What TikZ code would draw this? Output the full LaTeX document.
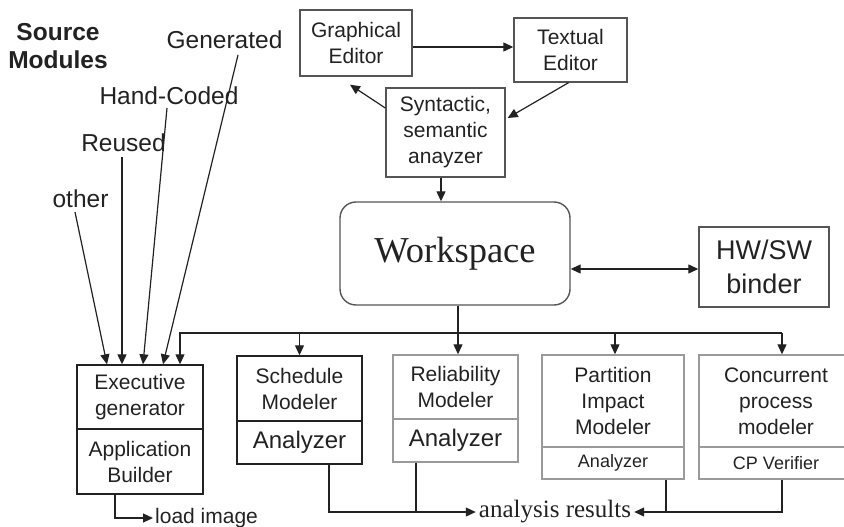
\documentclass[tikz,border=0pt]{standalone}
\usepackage{fontspec}
\setmainfont{Liberation Serif}
\setsansfont{Liberation Sans}
\usetikzlibrary{arrows.meta}
\definecolor{ink}{HTML}{222222}
\definecolor{midgray}{HTML}{555555}
\definecolor{litegray}{HTML}{9A9A9A}
\begin{document}
\begin{tikzpicture}[x=1pt,y=-1pt,
  ln/.style={line width=1.2pt, draw=ink},
  arr/.style={ln, -{Triangle[length=10pt,width=9pt]}},
  darr/.style={ln, {Triangle[length=10pt,width=9pt]}-{Triangle[length=10pt,width=9pt]}},
  box/.style={draw, line width=1.4pt, inner sep=0pt, align=center, text=ink,
    font=\sffamily\fontsize{21}{26}\selectfont},
  bigana/.style={font=\sffamily\fontsize{24}{28}\selectfont},
  smallana/.style={font=\sffamily\fontsize{18}{22}\selectfont},
  lbl/.style={text=ink, inner sep=1pt, font=\sffamily\fontsize{24.5}{29}\selectfont}
]
\useasboundingbox (0,0) rectangle (844,527);

% top editors
\node[box, draw=midgray, minimum width=112pt, minimum height=66pt] (ge) at (356,43) {Graphical\\Editor};
\node[box, draw=midgray, minimum width=113pt, minimum height=64pt] (te) at (570.5,50) {Textual\\Editor};
\node[box, draw=midgray, minimum width=119pt, minimum height=89pt] (syn) at (445.5,132.5) {Syntactic,\\semantic\\anayzer};
\node[box, draw=midgray, rounded corners=16pt, minimum width=230pt, minimum height=103pt,
  font=\rmfamily\fontsize{36.5}{40}\selectfont] (ws) at (455,253.5) {Workspace};
\node[box, draw=midgray, minimum width=130pt, minimum height=80pt,
  font=\sffamily\fontsize{27}{34}\selectfont] (hw) at (764,267) {HW/SW\\binder};

% bottom modules
\node[box, draw=ink, minimum width=126pt, minimum height=64pt] (exec) at (140,397) {Executive\\generator};
\node[box, draw=ink, minimum width=126pt, minimum height=65pt] (app) at (140,461.5) {Application\\Builder};
\node[box, draw=ink, minimum width=125pt, minimum height=65pt] (sched) at (299.5,388.5) {Schedule\\Modeler};
\node[box, bigana, draw=ink, minimum width=125pt, minimum height=43pt] (schana) at (299.5,442.5) {Analyzer};
\node[box, draw=litegray, minimum width=125pt, minimum height=64pt] (rel) at (455.5,387) {Reliability\\Modeler};
\node[box, bigana, draw=litegray, minimum width=125pt, minimum height=43pt] (relana) at (455.5,440.5) {Analyzer};
\node[box, draw=litegray, minimum width=142pt, minimum height=92pt] (part) at (613,401) {Partition\\Impact\\Modeler};
\node[box, smallana, draw=litegray, minimum width=142pt, minimum height=32pt] (partana) at (613,463) {Analyzer};
\node[box, draw=litegray, minimum width=154pt, minimum height=92pt] (conc) at (776,401) {Concurrent\\process\\modeler};
\node[box, smallana, draw=litegray, minimum width=154pt, minimum height=32pt] (concana) at (776,463) {CP Verifier};

% source module labels
\node[text=ink, align=center, font=\sffamily\bfseries\fontsize{24.5}{28}\selectfont] (src) at (58,46) {Source\\Modules};
\node[lbl] (gen) at (224.5,40) {Generated};
\node[lbl] (hand) at (169,96) {Hand-Coded};
\node[lbl] (reu) at (123.5,143) {Reused};
\node[lbl] (oth) at (80.5,199) {other};

\draw[arr] ([shift={(-5.5,13)}]oth.center) -- ([shift={(-33,0)}]exec.north);
\draw[arr] ([shift={(-1.5,14)}]reu.center) -- ([shift={(-18,0)}]exec.north);
\draw[arr] ([shift={(-2,12)}]hand.center) -- ([shift={(3,0)}]exec.north);
\draw[arr] ([shift={(13.5,15)}]gen.center) -- ([shift={(23,0)}]exec.north);

% editor arrows
\draw[arr] ([shift={(0,4)}]ge.east) -- ([shift={(0,-3)}]te.west);
\draw[arr] ([shift={(0,-24.5)}]syn.west) -- ([shift={(-6,8)}]ge.south);
\draw[arr] ([shift={(-2,0)}]te.south) -- ([shift={(2,-14.5)}]syn.east);
\coordinate (sdrop) at ([shift={(-4.5,0)}]syn.south);
\draw[arr] (sdrop) -- (sdrop |- ws.north);
\coordinate (hwin) at ([shift={(0,2)}]hw.west);
\draw[darr] (ws.east |- hwin) -- (hwin);

% distribution bus
\coordinate (busR) at (782,333);
\draw[arr] (busR) -| ([shift={(40,0)}]exec.north);
\draw[arr] (busR) -- (busR |- conc.north);
\draw[arr] (sched.north |- busR) -- (sched.north);
\coordinate (wdrop) at ([shift={(3,0)}]ws.south);
\draw[arr] (wdrop) -- (wdrop |- rel.north);
\coordinate (pdrop) at ([shift={(2,0)}]part.north);
\draw[arr] (pdrop |- busR) -- (pdrop);

% analysis results
\node[text=ink, inner sep=3pt, font=\rmfamily\fontsize{25}{28}\selectfont] (res) at (555,512) {analysis results};
\draw[arr] ([shift={(29.5,0)}]schana.south) |- (res.west);
\coordinate (rdrop) at ([shift={(-39.5,0)}]relana.south);
\draw[ln] (rdrop) -- (rdrop |- res.west);
\draw[arr] ([shift={(53,0)}]partana.south) |- (res.east);
\coordinate (cdrop) at ([shift={(6,0)}]concana.south);
\draw[ln] (cdrop) |- ([shift={(53,0)}]partana.south |- res.east);

% load image
\node[text=ink, anchor=west, inner sep=2pt, font=\sffamily\fontsize{21}{25}\selectfont] (load) at (153,518) {load image};
\coordinate (ldrop) at ([shift={(-25,0)}]app.south);
\draw[arr] (ldrop) |- (load.west);
\end{tikzpicture}
\end{document}
